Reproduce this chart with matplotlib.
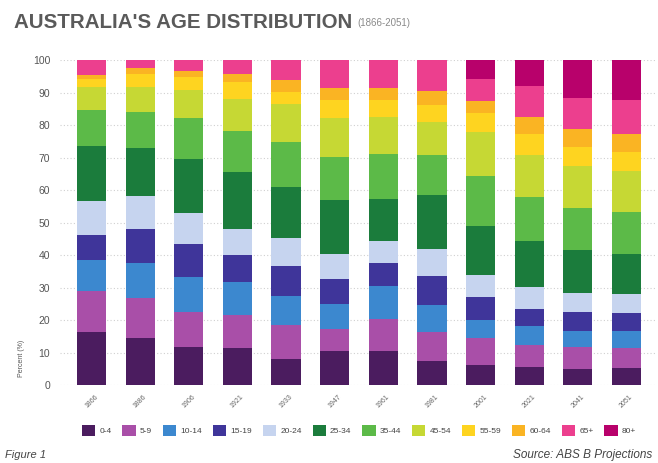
import numpy as np
import matplotlib
matplotlib.use('Agg')
import matplotlib.pyplot as plt
from matplotlib.patches import Patch

plt.rcParams['font.family'] = ['Liberation Sans', 'DejaVu Sans']

years = ['1866', '1886', '1906', '1921', '1933', '1947',
         '1961', '1981', '2001', '2021', '2041', '2051']
age_groups = ['0-4', '5-9', '10-14', '15-19', '20-24', '25-34',
              '35-44', '45-54', '55-59', '60-64', '65+', '80+']

# share of population (%) per age group, one value per year
age_0_4 = [16.4, 14.4, 11.8, 11.3, 8.2, 10.5, 10.5, 7.4, 6.2, 5.6, 5.1, 5.3]
age_5_9 = [12.5, 12.3, 10.8, 10.4, 10.3, 6.9, 10.0, 9.0, 8.2, 6.7, 6.7, 6.0]
age_10_14 = [9.6, 11.0, 10.7, 10.1, 9.0, 7.7, 10.1, 8.2, 5.8, 5.9, 4.9, 5.4]
age_15_19 = [7.7, 10.5, 10.3, 8.4, 9.2, 7.7, 7.1, 9.0, 7.0, 5.4, 5.9, 5.6]
age_20_24 = [10.5, 10.1, 9.5, 8.0, 8.6, 7.7, 6.6, 8.2, 6.6, 6.7, 5.8, 5.9]
age_25_34 = [16.9, 14.7, 16.4, 17.4, 15.7, 16.4, 13.1, 16.7, 15.1, 14.0, 13.3, 12.1]
age_35_44 = [11.0, 11.1, 12.6, 12.6, 13.7, 13.4, 13.6, 12.3, 15.4, 13.6, 12.7, 13.0]
age_45_54 = [7.2, 7.7, 8.7, 10.0, 11.7, 11.8, 11.6, 10.2, 13.6, 12.9, 13.0, 12.6]
age_55_59 = [2.4, 4.1, 4.1, 5.1, 3.9, 5.6, 5.1, 5.2, 5.9, 6.6, 5.9, 5.9]
age_60_64 = [1.2, 1.7, 1.7, 2.6, 3.5, 3.6, 3.8, 4.3, 3.6, 5.2, 5.4, 5.6]
age_65_plus = [4.6, 2.4, 3.4, 4.1, 6.2, 8.7, 8.5, 9.5, 6.7, 9.4, 9.8, 10.3]
age_80_plus = [0, 0, 0, 0, 0, 0, 0, 0, 5.9, 8.0, 11.5, 12.3]

series = [age_0_4, age_5_9, age_10_14, age_15_19, age_20_24, age_25_34,
          age_35_44, age_45_54, age_55_59, age_60_64, age_65_plus, age_80_plus]
colors = ['#4b1c5f', '#a94fa8', '#3c88cf', '#3f359a', '#c6d4ef', '#1b7c3c',
          '#5cba48', '#c6d834', '#fed420', '#fab423', '#ec3f8e', '#b8016b']

fig = plt.figure(figsize=(6.58, 4.63), dpi=100)
ax = fig.add_axes([0.091, 0.168, 0.904, 0.702])

x = np.arange(len(years))
bottom = np.zeros(len(years))
for vals, col in zip(series, colors):
    ax.bar(x, vals, width=0.6, bottom=bottom, color=col, linewidth=0, zorder=2)
    bottom += np.array(vals)

ax.set_xlim(-0.65, 11.58)
ax.set_ylim(0, 100)
ax.set_yticks(np.arange(0, 101, 10))
ax.yaxis.grid(True, linestyle=(0, (1, 2)), color='#d0d0d0', linewidth=0.8, zorder=0)
ax.set_axisbelow(True)
for s in ax.spines.values():
    s.set_visible(False)
ax.tick_params(axis='both', length=0, colors='#555555')
ax.tick_params(axis='y', labelsize=7.5, pad=7)
ax.set_xticks(x)
ax.set_xticklabels(years, rotation=45, fontsize=5, color='#666666')
ax.tick_params(axis='x', pad=6)

fig.text(0.033, 0.227, 'Percent (%)', rotation=90, fontsize=5,
         color='#555555', ha='center', va='center')

fig.text(0.022, 0.952, "AUSTRALIA'S AGE DISTRIBUTION", fontsize=14.8,
         fontweight='bold', color='#5a5a5a', va='center')
fig.text(0.543, 0.950, '(1866-2051)', fontsize=7, color='#8a8a8a', va='center')

handles = [Patch(facecolor=c, edgecolor='none') for c in colors]
fig.legend(handles, age_groups, loc='center', ncol=12, frameon=False,
           bbox_to_anchor=(0.113, 0.045, 0.865, 0.05), mode='expand',
           fontsize=6, handlelength=1.6, handleheight=1.6,
           handletextpad=0.5, columnspacing=1.0, labelcolor='#444444')

fig.text(0.008, 0.017, 'Figure 1', fontsize=8, style='italic',
         color='#444444', va='center')
fig.text(0.991, 0.017, 'Source: ABS B Projections', fontsize=8.5,
         style='italic', color='#444444', ha='right', va='center')

fig.savefig('out.png', dpi=100, facecolor='white')
